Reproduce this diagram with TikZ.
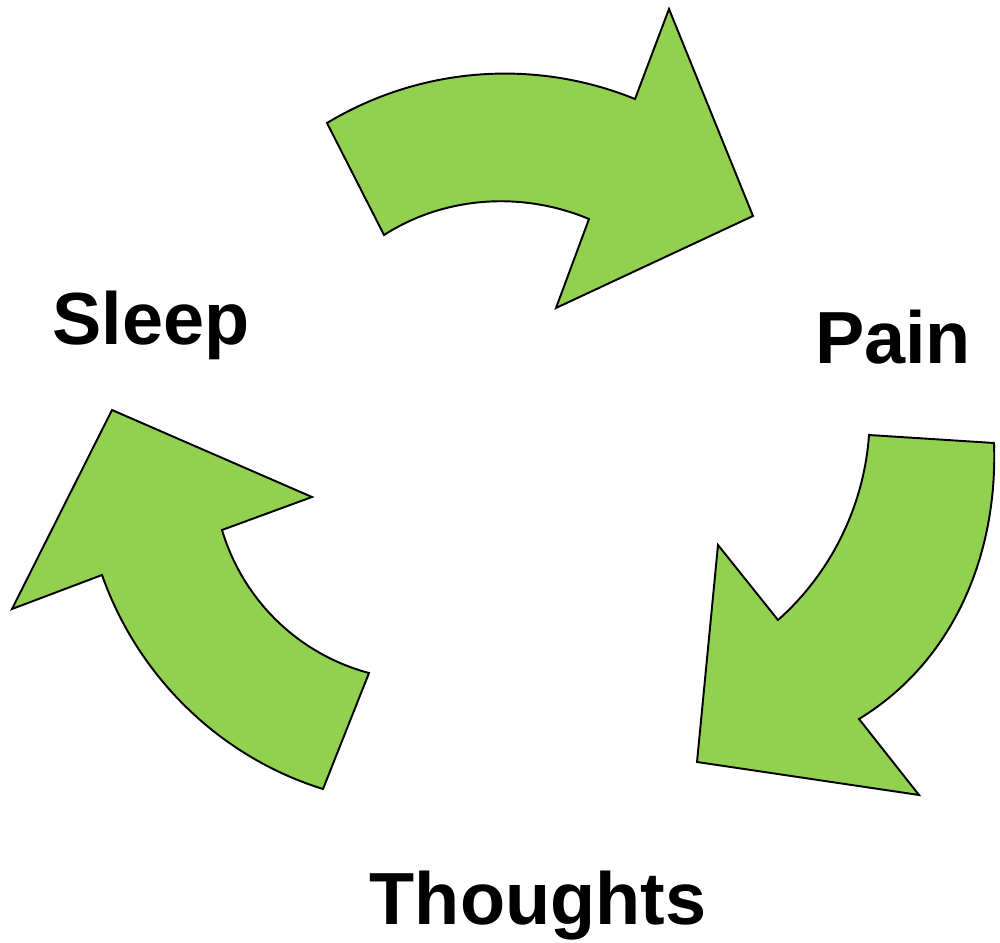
\documentclass[tikz,border=0pt]{standalone}
\usepackage{fontspec}
\setmainfont{Liberation Sans}
\usepackage{xcolor}
\definecolor{arrowgreen}{HTML}{92D050}

\begin{document}
\begin{tikzpicture}[x=0.01cm, y=-0.01cm,
	bigarrow/.style={fill=arrowgreen, draw=black, line width=0.55pt, line join=miter},
	word/.style={font=\fontsize{21}{25}\selectfont\bfseries, anchor=base, inner sep=0pt}]
	\useasboundingbox (0,0) rectangle (1000,943);
	% top arrow
	\draw[bigarrow] (327,123) .. controls (420,67) and (534,58) .. (635,99) -- (669,9) -- (753,216) -- (556,308) -- (589,219) .. controls (522,191) and (445,196) .. (384,235) -- cycle;
	% right arrow
	\draw[bigarrow] (994,443) .. controls (998,554) and (954,661) .. (859,719) -- (919,795) -- (697,762) -- (718,545) -- (778,620) .. controls (831,573) and (864,506) .. (869,435) -- cycle;
	% left arrow
	\draw[bigarrow] (323,789) .. controls (220,757) and (138,677) .. (102,575) -- (12,609) -- (112,410) -- (312,497) -- (222,530) .. controls (243,600) and (298,654) .. (369,673) -- cycle;
	% labels
	\node[word] (sleep) at (151,345) {Sleep};
	\node[word] (pain) at (893,364) {Pain};
	\node[word] (thoughts) at (538,924) {Thoughts};
\end{tikzpicture}
\end{document}
